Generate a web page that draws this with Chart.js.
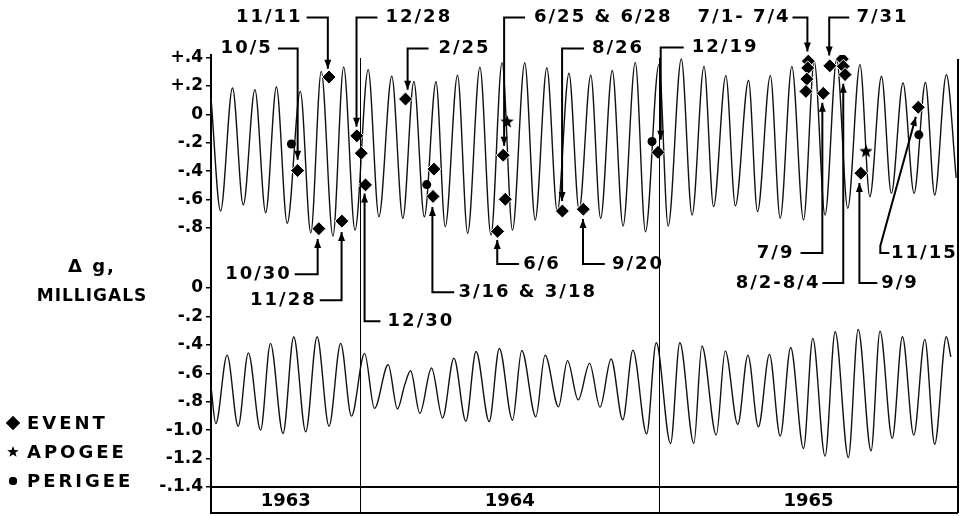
<!DOCTYPE html>
<html lang="en">
<head>
<meta charset="UTF-8">
<title>Delta g, milligals 1963-1965</title>
<script src="https://cdn.jsdelivr.net/npm/chart.js@4"></script>
<style>
    body { margin: 0; background: #fff; }
    #wrap { position: relative; width: 966px; height: 516px; }
</style>
</head>
<body>
<div id="wrap"><canvas id="gravity-chart"></canvas></div>
<script>
// upper trace (top scale), turning points
const upperYear = [1963.500, 1963.532, 1963.572, 1963.608, 1963.647, 1963.683, 1963.719, 1963.755, 1963.799, 1963.834,
    1963.869, 1963.908, 1963.944, 1963.982, 1964.026, 1964.062, 1964.105, 1964.142, 1964.179, 1964.214,
    1964.253, 1964.284, 1964.325, 1964.359, 1964.400, 1964.437, 1964.474, 1964.509, 1964.550, 1964.585,
    1964.624, 1964.659, 1964.698, 1964.732, 1964.771, 1964.804, 1964.843, 1964.879, 1964.920, 1964.954,
    1964.999, 1965.030, 1965.074, 1965.110, 1965.150, 1965.182, 1965.223, 1965.255, 1965.299, 1965.329,
    1965.372, 1965.405, 1965.444, 1965.483, 1965.519, 1965.555, 1965.594, 1965.631, 1965.672, 1965.705,
    1965.744, 1965.777, 1965.816, 1965.853, 1965.891, 1965.922, 1965.961, 1965.994];
const upperMgal = [0.116, -0.681, 0.185, -0.638, 0.173, -0.693, 0.192, -0.767, 0.161, -0.834,
    0.302, -0.857, 0.333, -0.815, 0.314, -0.721, 0.267, -0.732, 0.231, -0.721,
    0.229, -0.791, 0.275, -0.838, 0.331, -0.850, 0.363, -0.815, 0.362, -0.744,
    0.327, -0.685, 0.289, -0.673, 0.275, -0.732, 0.308, -0.786, 0.365, -0.827,
    0.349, -0.786, 0.389, -0.709, 0.337, -0.650, 0.272, -0.645, 0.238, -0.685,
    0.272, -0.732, 0.337, -0.744, 0.372, -0.709, 0.384, -0.661, 0.349, -0.580,
    0.267, -0.556, 0.220, -0.556, 0.224, -0.568, 0.279, -0.448];

// lower trace (bottom scale)
const lowerYear = [1963.500, 1963.516, 1963.554, 1963.591, 1963.625, 1963.666, 1963.699, 1963.741, 1963.777, 1963.817,
    1963.855, 1963.895, 1963.934, 1963.970, 1964.014, 1964.047, 1964.093, 1964.124, 1964.148, 1964.168,
    1964.199, 1964.238, 1964.275, 1964.313, 1964.353, 1964.387, 1964.431, 1964.465, 1964.509, 1964.540,
    1964.587, 1964.618, 1964.663, 1964.693, 1964.729, 1964.767, 1964.802, 1964.839, 1964.878, 1964.912,
    1964.958, 1964.990, 1965.038, 1965.069, 1965.116, 1965.143, 1965.191, 1965.221, 1965.263, 1965.297,
    1965.332, 1965.369, 1965.405, 1965.440, 1965.483, 1965.514, 1965.555, 1965.589, 1965.633, 1965.666,
    1965.709, 1965.739, 1965.780, 1965.814, 1965.852, 1965.889, 1965.922, 1965.961, 1965.976];
const lowerMgal = [-0.695, -0.953, -0.472, -0.972, -0.456, -1.000, -0.389, -1.023, -0.343, -1.012,
    -0.343, -0.972, -0.389, -0.901, -0.460, -0.847, -0.540, -0.851, -0.683, -0.582,
    -0.882, -0.563, -0.914, -0.493, -0.937, -0.446, -0.939, -0.425, -0.930, -0.439,
    -0.906, -0.472, -0.836, -0.511, -0.787, -0.530, -0.838, -0.499, -0.927, -0.437,
    -1.026, -0.385, -1.094, -0.385, -1.094, -0.408, -1.035, -0.442, -0.960, -0.472,
    -0.977, -0.467, -1.042, -0.418, -1.129, -0.354, -1.183, -0.308, -1.192, -0.291,
    -1.146, -0.303, -1.058, -0.343, -1.035, -0.361, -1.099, -0.343, -0.484];

// markers on the upper trace
const eventYear = [1963.790, 1963.861, 1963.895, 1963.938, 1963.988, 1964.003, 1964.017, 1964.151, 1964.246, 1964.243,
    1964.459, 1964.478, 1964.485, 1964.676, 1964.746, 1964.996, 1965.499, 1965.497, 1965.494, 1965.491,
    1965.549, 1965.571, 1965.613, 1965.616, 1965.622, 1965.675, 1965.867];
const eventMgal = [-0.396, -0.805, 0.262, -0.752, -0.152, -0.274, -0.497, 0.107, -0.386, -0.578,
    -0.824, -0.288, -0.598, -0.681, -0.668, -0.268, 0.374, 0.326, 0.248, 0.161,
    0.147, 0.341, 0.389, 0.337, 0.279, -0.415, 0.049];
const apogeeYear = [1964.491, 1965.692];
const apogeeMgal = [-0.054, -0.262];
const perigeeYear = [1963.769, 1964.222, 1964.976, 1965.869];
const perigeeMgal = [-0.209, -0.495, -0.192, -0.145];

// tick labels
const upperTicks = [0.4, 0.2, 0, -0.2, -0.4, -0.6, -0.8];
const upperTickLabels = ['+.4', '+.2', '0', '-.2', '-.4', '-.6', '-.8'];
const lowerTicks = [0, -0.2, -0.4, -0.6, -0.8, -1.0, -1.2, -1.4];
const lowerTickLabels = ['0', '-.2', '-.4', '-.6', '-.8', '-1.0', '-1.2', '-.1.4'];
const years = ['1963', '1964', '1965'];
const yearCenters = [1963.75, 1964.5, 1965.5];
const yearBounds = [1964, 1965];

// upper scale sits above the lower one on the same axis
const UPPER_SHIFT = 1.223;

// date call-outs, in years / upper-scale milligals
const notes = [
    { text: '10/5', at: [1963.700, 0.462], align: 'right', path: [[1963.724, 0.462], [1963.790, 0.462], [1963.790, -0.321]] },
    { text: '11/11', at: [1963.800, 0.681], align: 'right', path: [[1963.820, 0.681], [1963.891, 0.681], [1963.891, 0.321]] },
    { text: '12/28', at: [1964.084, 0.681], align: 'left', path: [[1964.057, 0.681], [1963.987, 0.681], [1963.987, -0.088]] },
    { text: '2/25', at: [1964.261, 0.462], align: 'left', path: [[1964.228, 0.462], [1964.158, 0.462], [1964.158, 0.173]] },
    { text: '6/25 & 6/28', at: [1964.581, 0.681], align: 'left', path: [[1964.551, 0.681], [1964.481, 0.681], [1964.481, -0.222]] },
    { text: '8/26', at: [1964.775, 0.462], align: 'left', path: [[1964.748, 0.462], [1964.675, 0.462], [1964.675, -0.610]] },
    { text: '12/19', at: [1965.109, 0.469], align: 'left', path: [[1965.082, 0.469], [1965.005, 0.469], [1965.005, -0.180]] },
    { text: '7/1- 7/4', at: [1965.433, 0.681], align: 'right', path: [[1965.446, 0.681], [1965.496, 0.681], [1965.496, 0.441]] },
    { text: '7/31', at: [1965.660, 0.681], align: 'left', path: [[1965.636, 0.681], [1965.569, 0.681], [1965.569, 0.413]] },
    { text: '10/30', at: [1963.764, -1.125], align: 'right', path: [[1963.780, -1.125], [1963.857, -1.125], [1963.857, -0.878]] },
    { text: '11/28', at: [1963.847, -1.308], align: 'right', path: [[1963.864, -1.308], [1963.937, -1.308], [1963.937, -0.829]] },
    { text: '12/30', at: [1964.091, -1.456], align: 'left', path: [[1964.067, -1.456], [1964.014, -1.456], [1964.014, -0.557]] },
    { text: '3/16 & 3/18', at: [1964.328, -1.252], align: 'left', path: [[1964.314, -1.252], [1964.241, -1.252], [1964.241, -0.652]] },
    { text: '6/6', at: [1964.545, -1.054], align: 'left', path: [[1964.531, -1.054], [1964.458, -1.054], [1964.458, -0.885]] },
    { text: '9/20', at: [1964.842, -1.054], align: 'left', path: [[1964.818, -1.054], [1964.745, -1.054], [1964.745, -0.737]] },
    { text: '7/9', at: [1965.446, -0.977], align: 'right', path: [[1965.473, -0.977], [1965.546, -0.977], [1965.546, 0.081]] },
    { text: '8/2-8/4', at: [1965.533, -1.188], align: 'right', path: [[1965.546, -1.188], [1965.616, -1.188], [1965.616, 0.215]] },
    { text: '9/9', at: [1965.743, -1.188], align: 'left', path: [[1965.730, -1.188], [1965.670, -1.188], [1965.670, -0.483]] },
    { text: '11/15', at: [1965.776, -0.977], align: 'left', path: [[1965.770, -0.977], [1965.740, -0.977], [1965.740, -0.927], [1965.859, -0.018]] }
];

const FONT = "'DejaVu Sans', sans-serif";

function toPoints(xs, ys, shift) {
    return xs.map((x, i) => ({ x: x, y: ys[i] + shift }));
}

// filled five point star for the apogee marks
function starImage(r) {
    const c = document.createElement('canvas');
    const s = Math.ceil(r * 2 + 2);
    c.width = s;
    c.height = s;
    const g = c.getContext('2d');
    g.fillStyle = '#000';
    g.beginPath();
    for (let i = 0; i < 10; i++) {
        const rad = i % 2 ? r * 0.42 : r;
        const ang = -Math.PI / 2 + i * Math.PI / 5;
        g.lineTo(s / 2 + rad * Math.cos(ang), s / 2 + rad * Math.sin(ang));
    }
    g.closePath();
    g.fill();
    return c;
}
const bigStar = starImage(7);
const smallStar = starImage(6);

const yTickPos = upperTicks.map(v => v + UPPER_SHIFT).concat(lowerTicks);
const yTickText = upperTickLabels.concat(lowerTickLabels);

function arrowHead(ctx, x0, y0, x1, y1) {
    const ang = Math.atan2(y1 - y0, x1 - x0);
    const len = 9, half = 3.5;
    ctx.beginPath();
    ctx.moveTo(x1, y1);
    ctx.lineTo(x1 - len * Math.cos(ang) + half * Math.sin(ang), y1 - len * Math.sin(ang) - half * Math.cos(ang));
    ctx.lineTo(x1 - len * Math.cos(ang) - half * Math.sin(ang), y1 - len * Math.sin(ang) + half * Math.cos(ang));
    ctx.closePath();
    ctx.fill();
}

// year box, dividers, call-outs, axis title and key
const decorations = {
    id: 'decorations',
    afterDraw(chart) {
        const { ctx, chartArea: area } = chart;
        const xs = chart.scales.x, ys = chart.scales.y;
        const px = t => xs.getPixelForValue(t);
        const py = v => ys.getPixelForValue(v + UPPER_SHIFT);
        const boxBottom = chart.height - 3;
        ctx.save();
        ctx.strokeStyle = '#000';
        ctx.fillStyle = '#000';

        ctx.lineWidth = 1;
        yearBounds.forEach(b => {
            const xx = Math.round(px(b)) + 0.5;
            ctx.beginPath();
            ctx.moveTo(xx, area.top + 3);
            ctx.lineTo(xx, boxBottom);
            ctx.stroke();
        });

        ctx.lineWidth = 2;
        ctx.beginPath();
        ctx.moveTo(area.left, area.bottom);
        ctx.lineTo(area.left, boxBottom);
        ctx.lineTo(area.right, boxBottom);
        ctx.moveTo(area.right, area.top + 4);
        ctx.lineTo(area.right, boxBottom);
        ctx.stroke();

        ctx.font = 'bold 18px ' + FONT;
        ctx.letterSpacing = '2px';
        ctx.textBaseline = 'middle';
        notes.forEach(n => {
            const pts = n.path.map(p => [px(p[0]), py(p[1])]);
            ctx.lineWidth = 2;
            ctx.beginPath();
            pts.forEach((p, i) => i ? ctx.lineTo(p[0], p[1]) : ctx.moveTo(p[0], p[1]));
            ctx.stroke();
            const a = pts[pts.length - 2], b = pts[pts.length - 1];
            arrowHead(ctx, a[0], a[1], b[0], b[1]);
            ctx.textAlign = n.align;
            ctx.fillText(n.text, px(n.at[0]) + (n.align === 'right' ? 2 : 0), py(n.at[1]));
        });

        // axis title
        ctx.textAlign = 'center';
        ctx.font = 'bold 18px ' + FONT;
        ctx.letterSpacing = '2px';
        ctx.fillText('\u0394 g,', 92, 267);
        ctx.font = 'bold 17px ' + FONT;
        ctx.letterSpacing = '1px';
        ctx.fillText('MILLIGALS', 92, 297);

        // key
        const key = [
            { label: 'EVENT', style: 'rectRot', r: 7, y: 423 },
            { label: 'APOGEE', style: smallStar, r: 0, y: 452 },
            { label: 'PERIGEE', style: 'circle', r: 4, y: 481 }
        ];
        ctx.textAlign = 'left';
        ctx.font = 'bold 18px ' + FONT;
        ctx.letterSpacing = '3px';
        key.forEach(k => {
            if (typeof k.style === 'string') {
                Chart.helpers.drawPoint(ctx, { pointStyle: k.style, radius: k.r, borderWidth: 0, rotation: 0 }, 13, k.y);
                ctx.fill();
            } else {
                ctx.drawImage(k.style, 13 - k.style.width / 2, k.y - k.style.height / 2);
            }
            ctx.fillText(k.label, 27, k.y + 1);
        });
        ctx.restore();
    }
};

Chart.defaults.font.family = FONT;
Chart.defaults.color = '#000';

new Chart(document.getElementById('gravity-chart'), {
    type: 'scatter',
    data: {
        datasets: [
            {
                label: 'Event',
                data: toPoints(eventYear, eventMgal, UPPER_SHIFT),
                pointStyle: 'rectRot',
                pointRadius: 7,
                backgroundColor: '#000',
                borderColor: '#fff',
                borderWidth: 1
            },
            {
                label: 'Apogee',
                data: toPoints(apogeeYear, apogeeMgal, UPPER_SHIFT),
                pointStyle: bigStar,
                pointRadius: 7
            },
            {
                label: 'Perigee',
                data: toPoints(perigeeYear, perigeeMgal, UPPER_SHIFT),
                pointStyle: 'circle',
                pointRadius: 4.5,
                backgroundColor: '#000',
                borderWidth: 0
            },
            {
                label: 'Upper trace',
                data: toPoints(upperYear, upperMgal, UPPER_SHIFT),
                showLine: true,
                pointRadius: 0,
                borderColor: '#111',
                borderWidth: 1.4,
                cubicInterpolationMode: 'monotone'
            },
            {
                label: 'Lower trace',
                data: toPoints(lowerYear, lowerMgal, 0),
                showLine: true,
                pointRadius: 0,
                borderColor: '#111',
                borderWidth: 1.4,
                cubicInterpolationMode: 'monotone'
            }
        ]
    },
    options: {
        responsive: true,
        maintainAspectRatio: false,
        animation: false,
        layout: { padding: { top: 55, right: 7, left: 0, bottom: 0 } },
        plugins: {
            legend: { display: false },
            tooltip: { enabled: false }
        },
        scales: {
            x: {
                type: 'linear',
                min: 1963.5,
                max: 1966.0,
                afterBuildTicks: scale => { scale.ticks = yearCenters.map(v => ({ value: v })); },
                afterFit: scale => { scale.height = 29; },
                grid: { display: false, drawTicks: false },
                border: { display: true, color: '#000', width: 2 },
                ticks: {
                    autoSkip: false,
                    maxRotation: 0,
                    padding: 4,
                    font: { size: 18, weight: 'bold' },
                    callback: (v, i) => years[i]
                }
            },
            y: {
                type: 'linear',
                min: -1.4,
                max: 1.64,
                afterBuildTicks: scale => { scale.ticks = yTickPos.map(v => ({ value: v })); },
                afterFit: scale => { scale.width = 211; },
                grid: { drawOnChartArea: false, drawTicks: true, tickLength: 5, color: '#000', lineWidth: 1.5 },
                border: { display: true, color: '#000', width: 2 },
                ticks: {
                    autoSkip: false,
                    padding: 3,
                    font: { size: 17, weight: 'bold' },
                    callback: (v, i) => yTickText[i]
                }
            }
        }
    },
    plugins: [decorations]
});
</script>
</body>
</html>
